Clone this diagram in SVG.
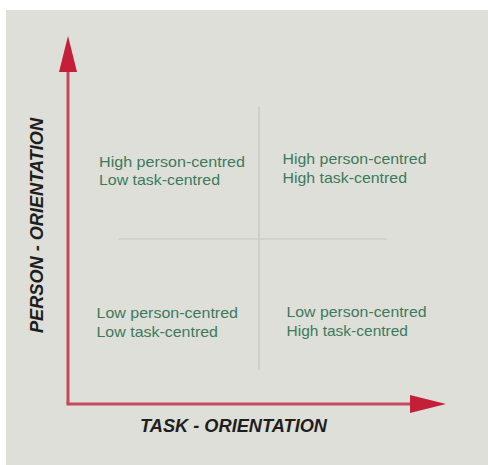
<svg xmlns="http://www.w3.org/2000/svg" width="488" height="465" viewBox="0 0 488 465">
  <style>
    .quad { font-family: "Liberation Sans", Arial, sans-serif; font-size: 15px; fill: #3d7a5c; }
    .axis-label { font-family: "Liberation Sans", Arial, sans-serif; font-size: 18px; font-weight: bold; font-style: italic; fill: #1e1e1e; }
    .axis { stroke: #c44a5c; stroke-width: 3; fill: none; }
    .grid { stroke: #c6c7c1; stroke-width: 1.2; }
  </style>
  <defs>
    <marker id="arrowhead" markerUnits="userSpaceOnUse" markerWidth="36" markerHeight="18" refX="0" refY="9" orient="auto">
      <path d="M0,0 L36,9 L0,18 Z" fill="#c41e38"/>
    </marker>
  </defs>

  <!-- canvas -->
  <rect x="0" y="0" width="488" height="465" fill="#ffffff"/>
  <rect x="6" y="10" width="482" height="455" fill="#dedfd9"/>

  <!-- quadrant dividers -->
  <g id="dividers">
    <line class="grid" x1="259" y1="107" x2="259" y2="370"/>
    <line class="grid" x1="118" y1="239" x2="387" y2="239"/>
  </g>

  <!-- axes -->
  <g id="connectors">
    <path class="axis" d="M68,404 L68,72" marker-end="url(#arrowhead)"/>
    <path class="axis" d="M66.5,404 L410,404" marker-end="url(#arrowhead)"/>
  </g>

  <g id="q-top-left">
    <text class="quad" x="99" y="166.5" textLength="146" lengthAdjust="spacingAndGlyphs">High person-centred</text>
    <text class="quad" x="99" y="184.5" textLength="121" lengthAdjust="spacingAndGlyphs">Low task-centred</text>
  </g>
  <g id="q-top-right">
    <text class="quad" x="282.5" y="163.5" textLength="144" lengthAdjust="spacingAndGlyphs">High person-centred</text>
    <text class="quad" x="282.5" y="182.5" textLength="124.5" lengthAdjust="spacingAndGlyphs">High task-centred</text>
  </g>
  <g id="q-bottom-left">
    <text class="quad" x="96.5" y="318" textLength="141.5" lengthAdjust="spacingAndGlyphs">Low person-centred</text>
    <text class="quad" x="96.5" y="336.5" textLength="121.5" lengthAdjust="spacingAndGlyphs">Low task-centred</text>
  </g>
  <g id="q-bottom-right">
    <text class="quad" x="286.5" y="317" textLength="140" lengthAdjust="spacingAndGlyphs">Low person-centred</text>
    <text class="quad" x="286.5" y="335.5" textLength="121.5" lengthAdjust="spacingAndGlyphs">High task-centred</text>
  </g>

  <g id="x-axis-label">
    <text class="axis-label" x="140" y="431.5" textLength="187" lengthAdjust="spacingAndGlyphs">TASK - ORIENTATION</text>
  </g>
  <g id="y-axis-label">
    <text class="axis-label" transform="translate(42.5,333) rotate(-90)" x="0" y="0" textLength="215" lengthAdjust="spacingAndGlyphs">PERSON - ORIENTATION</text>
  </g>
</svg>
